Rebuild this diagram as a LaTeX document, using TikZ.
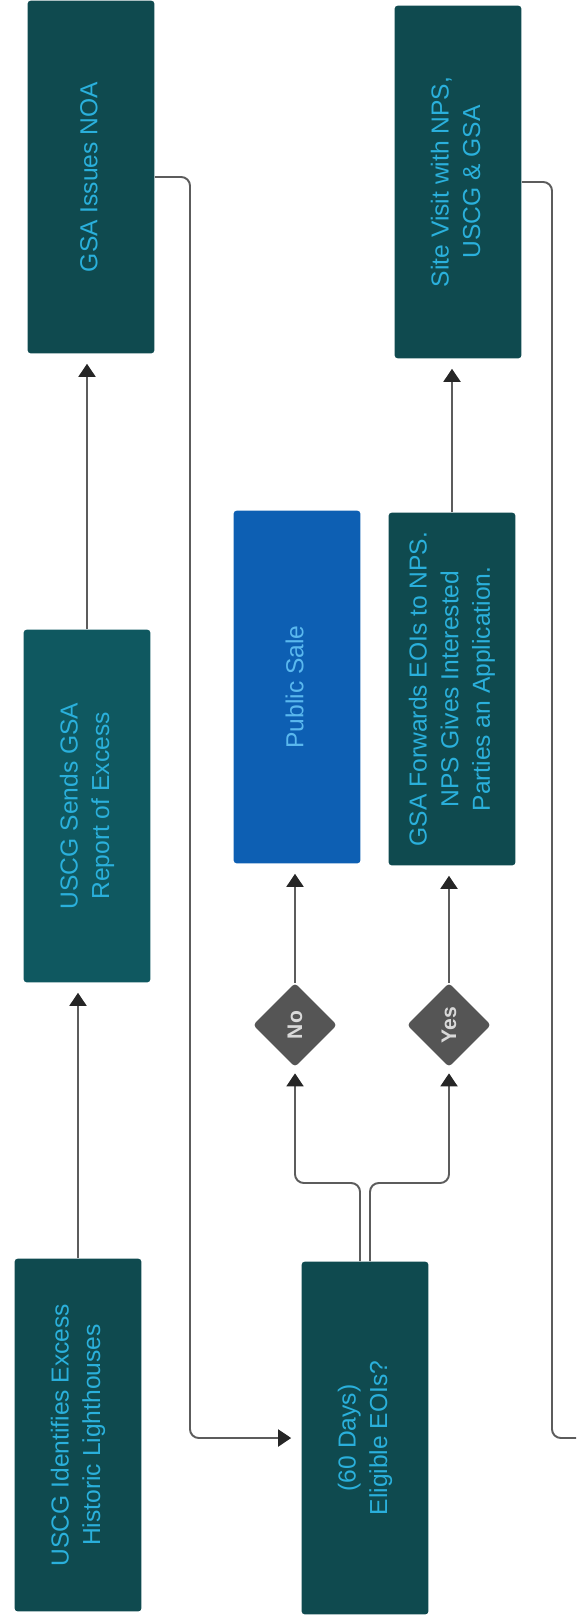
\documentclass[tikz,border=0pt]{standalone}
\usepackage{fontspec}
\setmainfont{Liberation Sans}
\usepackage{graphicx}
\usepackage{xcolor}
\usetikzlibrary{arrows.meta, positioning, calc, shapes.geometric}
\definecolor{hijautua}{HTML}{0F4A4F}
\definecolor{hijausedang}{HTML}{0F5860}
\definecolor{birumuda}{HTML}{2AB0DC}
\definecolor{birujual}{HTML}{0D5FB3}
\definecolor{tekssale}{HTML}{5AB8EE}
\definecolor{abu}{HTML}{555555}
\definecolor{garis}{HTML}{5C5C5C}
\newcommand{\tegak}[1]{\rotatebox{90}{\begin{tabular}{@{}c@{}}#1\end{tabular}}}

\begin{document}
\begin{tikzpicture}[
    x=0.02cm, y=-0.02cm,
    langkah/.style={fill=hijautua, rounded corners=2pt, minimum width=2.54cm, minimum height=7.06cm,
                    inner sep=0pt, text=birumuda, font=\fontsize{14}{18}\selectfont},
    jual/.style={langkah, fill=birujual, text=tekssale},
    pilihan/.style={diamond, fill=abu, rounded corners=2pt, minimum size=1.68cm, inner sep=0pt,
                    text=white!85!black, font=\fontsize{12}{14}\selectfont\bfseries},
    alur/.style={draw=garis, line width=1.1pt, -{Triangle[length=0.26cm, width=0.34cm, color=black!85]},
                 shorten >=0.2cm},
    garisbelok/.style={draw=garis, line width=1.1pt, rounded corners=5pt}
  ]
    \useasboundingbox (0,0) rectangle (576,1619);
    \node[langkah] (ident) at (78,1435) {\tegak{USCG Identifies Excess\\Historic Lighthouses}};
    \node[langkah, fill=hijausedang] (kirim) at (87,806) {\tegak{USCG Sends GSA\\Report of Excess}};
    \node[langkah] (noa) at (91,177) {\tegak{GSA Issues NOA}};
    \node[langkah] (elig) at (365,1438) {\tegak{(60 Days)\\Eligible EOIs?}};
    \node[pilihan] (tidak) at (295,1025) {\rotatebox{90}{No}};
    \node[pilihan] (ya) at (449,1025) {\rotatebox{90}{Yes}};
    \node[jual] (sale) at (297,687) {\tegak{Public Sale}};
    \node[langkah] (terus) at (452,689) {\tegak{GSA Forwards EOIs to NPS.\\NPS Gives Interested\\Parties an Application.}};
    \node[langkah] (kunjung) at (458,182) {\tegak{Site Visit with NPS,\\USCG \& GSA}};
    \coordinate (belokkiri) at (190,0);
    \coordinate (belokkanan) at (552,0);
    \coordinate (cabang) at (0,1183);
    \coordinate (lanjut) at (576,1438);
    \draw[alur] (ident.north) -- (ident.north |- kirim.south);
    \draw[alur] (kirim.north) -- (kirim.north |- noa.south);
    \draw[alur, rounded corners=5pt] (noa.east) -| (belokkiri |- elig.west) -- (elig.west);
    \draw[alur, rounded corners=5pt, shorten >=0.12cm] ([xshift=-0.1cm]elig.north) |- (tidak.south |- cabang) -- (tidak.south);
    \draw[alur, rounded corners=5pt, shorten >=0.12cm] ([xshift=0.1cm]elig.north) |- (ya.south |- cabang) -- (ya.south);
    \draw[alur] (tidak.north) -- (tidak.north |- sale.south);
    \draw[alur] (ya.north) -- (ya.north |- terus.south);
    \draw[alur] (terus.north) -- (terus.north |- kunjung.south);
    \draw[garisbelok] (kunjung.east) -| (belokkanan |- lanjut) -- (lanjut);
  \end{tikzpicture}
\end{document}
